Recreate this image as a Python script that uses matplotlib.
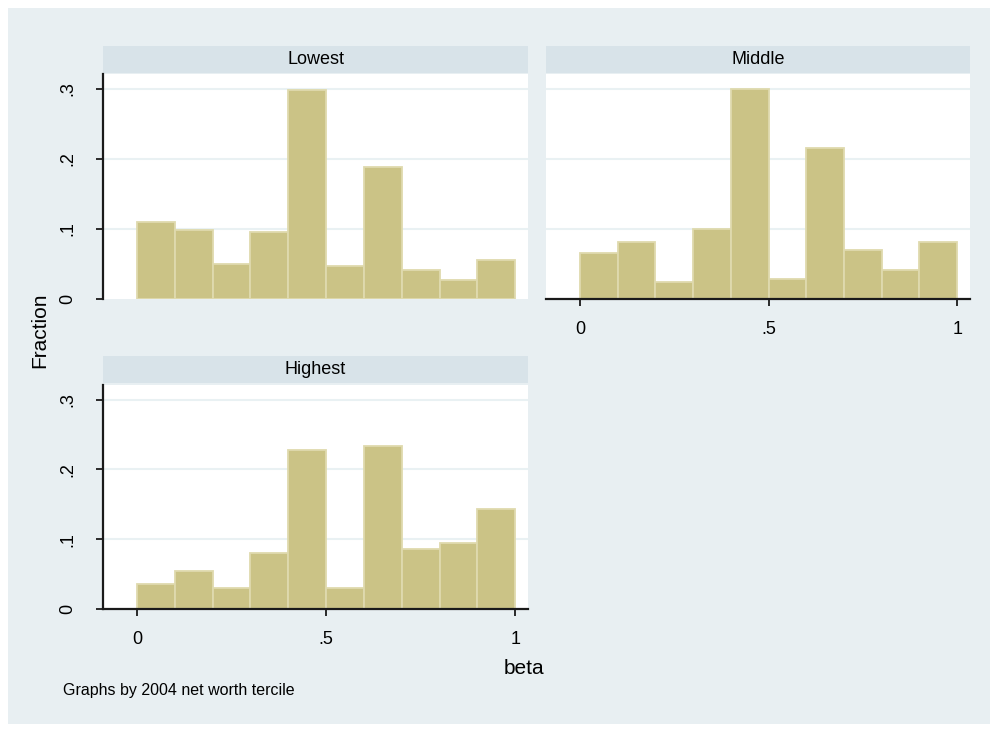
import matplotlib.pyplot as plt
from matplotlib.patches import Rectangle

plt.rcParams['font.family'] = ['Liberation Sans', 'DejaVu Sans']

# histogram of beta by 2004 net worth tercile (fraction per 0.1 bin)
bin_edges = [0.0, 0.1, 0.2, 0.3, 0.4, 0.5, 0.6, 0.7, 0.8, 0.9, 1.0]
lowest = [0.110, 0.098, 0.050, 0.095, 0.298, 0.047, 0.189, 0.041, 0.027, 0.056]
middle = [0.065, 0.082, 0.024, 0.100, 0.300, 0.029, 0.215, 0.070, 0.041, 0.082]
highest = [0.036, 0.054, 0.030, 0.080, 0.228, 0.030, 0.233, 0.086, 0.094, 0.144]

yticks = [0, 0.1, 0.2, 0.3]
ytick_labels = ['0', '.1', '.2', '.3']
xticks = [0, 0.5, 1]
xtick_labels = ['0', '.5', '1']

bg = '#e8eff2'
strip = '#d8e3e9'
bar_col = '#cbc386'
edge_col = '#dfdaae'
grid_col = '#e9f1f3'
axis_col = '#1a1a1a'

W, H = 997, 732
fig = plt.figure(figsize=(W / 100, H / 100), dpi=100)
fig.patch.set_facecolor('white')
fig.patches.append(Rectangle((8 / W, 1 - 724 / H), 982 / W, 716 / H,
                             transform=fig.transFigure, facecolor=bg,
                             edgecolor='none', zorder=-10))


def px(x0, y0, x1, y1):
    return [x0 / W, 1 - y1 / H, (x1 - x0) / W, (y1 - y0) / H]


def panel(rect, strip_rect, title, values, show_y, show_x):
    sx = fig.add_axes(strip_rect)
    sx.set_facecolor(strip)
    sx.set_xticks([])
    sx.set_yticks([])
    for s in sx.spines.values():
        s.set_visible(False)
    sx.text(0.5, 0.5, title, ha='center', va='center', fontsize=13,
            transform=sx.transAxes)

    ax = fig.add_axes(rect)
    ax.set_facecolor('white')
    widths = [bin_edges[i + 1] - bin_edges[i] for i in range(len(values))]
    ax.bar(bin_edges[:-1], values, width=widths, align='edge',
           color=bar_col, edgecolor=edge_col, linewidth=1.3, zorder=2)
    ax.set_xlim(-0.09, 1.034)
    ax.set_ylim(0, 0.321)
    for t in yticks[1:]:
        ax.axhline(t, color=grid_col, lw=1.5, zorder=1)
    for s in ax.spines.values():
        s.set_visible(False)
    if show_y:
        ax.spines['left'].set_visible(True)
        ax.spines['left'].set_color(axis_col)
        ax.spines['left'].set_linewidth(1.6)
        ax.set_yticks(yticks)
        ax.set_yticklabels(ytick_labels, rotation=90, va='center')
        ax.tick_params(axis='y', length=5, width=1.3, color=axis_col,
                       pad=14, labelsize=13)
    else:
        ax.set_yticks([])
    if show_x:
        ax.spines['bottom'].set_visible(True)
        ax.spines['bottom'].set_color(axis_col)
        ax.spines['bottom'].set_linewidth(1.6)
        ax.set_xticks(xticks)
        ax.set_xticklabels(xtick_labels)
        ax.tick_params(axis='x', length=5, width=1.3, color=axis_col,
                       pad=11, labelsize=13)
    else:
        ax.set_xticks([])
    return ax


panel(px(103, 74, 528, 299), px(103, 46, 528, 73), 'Lowest', lowest, True, False)
panel(px(546, 74, 970, 299), px(546, 46, 970, 73), 'Middle', middle, False, True)
panel(px(103, 385, 528, 609), px(103, 356, 528, 383), 'Highest', highest, True, True)

fig.text(40 / W, 1 - 330 / H, 'Fraction', rotation=90, ha='center',
         va='center', fontsize=15)
fig.text(544 / W, 1 - 668 / H, 'beta', ha='right', va='center', fontsize=15)
fig.text(63 / W, 1 - 691 / H, 'Graphs by 2004 net worth tercile',
         ha='left', va='center', fontsize=11.5)

fig.savefig('out.png', dpi=100, facecolor=fig.get_facecolor())
